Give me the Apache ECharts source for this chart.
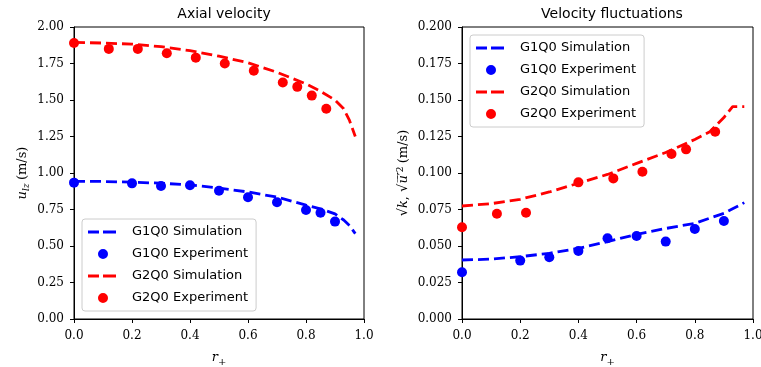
<!DOCTYPE html>
<html>
<head>
<meta charset="utf-8">
<script src="https://cdn.jsdelivr.net/npm/echarts@6/dist/echarts.min.js"></script>
<style>
  html, body { margin: 0; padding: 0; background: #fff; }
  #chart { width: 761px; height: 367px; }
</style>
</head>
<body>
<div id="chart"></div>
<script>
// Radial positions where the simulation profiles are sampled
const simR = [0, 0.1, 0.2, 0.3, 0.4, 0.5, 0.6, 0.7, 0.8, 0.85, 0.9, 0.93, 0.95, 0.97];

// Axial velocity (m/s)
const axialSimG1 = [0.943, 0.942, 0.937, 0.930, 0.918, 0.897, 0.870, 0.835, 0.780, 0.755, 0.720, 0.678, 0.640, 0.585];
const axialSimG2 = [1.895, 1.890, 1.883, 1.865, 1.838, 1.800, 1.755, 1.690, 1.610, 1.560, 1.500, 1.440, 1.360, 1.250];
const axialExpG1R = [0, 0.2, 0.3, 0.4, 0.5, 0.6, 0.7, 0.8, 0.85, 0.9];
const axialExpG1 = [0.934, 0.929, 0.911, 0.916, 0.879, 0.834, 0.800, 0.747, 0.728, 0.667];
const axialExpG2R = [0, 0.12, 0.22, 0.32, 0.42, 0.52, 0.62, 0.72, 0.77, 0.82, 0.87];
const axialExpG2 = [1.89, 1.85, 1.85, 1.82, 1.79, 1.75, 1.70, 1.62, 1.59, 1.53, 1.44];

// Velocity fluctuations (m/s)
const flucSimG1 = [0.0404, 0.0410, 0.0427, 0.0450, 0.0484, 0.0530, 0.0580, 0.0620, 0.0655, 0.0690, 0.0724, 0.0755, 0.0775, 0.0797];
const flucSimG2 = [0.0774, 0.0790, 0.0820, 0.0870, 0.0930, 0.0990, 0.1066, 0.1140, 0.1230, 0.1280, 0.1380, 0.1455, 0.1455, 0.1455];
const flucExpG1R = [0, 0.2, 0.3, 0.4, 0.5, 0.6, 0.7, 0.8, 0.9];
const flucExpG1 = [0.0320, 0.0400, 0.0423, 0.0466, 0.0553, 0.0568, 0.0530, 0.0616, 0.0671];
const flucExpG2R = [0, 0.12, 0.22, 0.40, 0.52, 0.62, 0.72, 0.77, 0.87];
const flucExpG2 = [0.0628, 0.0721, 0.0728, 0.0936, 0.0963, 0.1009, 0.1130, 0.1162, 0.1283];

const titles = ['Axial velocity', 'Velocity fluctuations'];
const seriesNames = ['G1Q0 Simulation', 'G1Q0 Experiment', 'G2Q0 Simulation', 'G2Q0 Experiment'];

const BLUE = '#0000ff';
const RED = '#ff0000';
const serif = 'DejaVu Serif';
const sans = 'DejaVu Sans';

const pairs = (xs, ys) => xs.map((x, i) => [x, ys[i]]);

function simSeries(name, idx, color, xs, ys) {
  return {
    name, type: 'line', xAxisIndex: idx, yAxisIndex: idx,
    data: pairs(xs, ys), symbol: 'none', smooth: false,
    lineStyle: { color, width: 2.8, type: [11, 5] },
    itemStyle: { color }, z: 3, animation: false
  };
}
function expSeries(name, idx, color, xs, ys, clip) {
  return {
    name, type: 'scatter', xAxisIndex: idx, yAxisIndex: idx,
    data: pairs(xs, ys), symbol: 'circle', symbolSize: 10,
    itemStyle: { color, opacity: 1 }, clip, z: 4, animation: false
  };
}

const tickLabel = { fontFamily: serif, fontSize: 12, color: '#000' };
const axisLine = { show: true, lineStyle: { color: '#000', width: 1 } };
const axisTick = { show: true, inside: false, length: 4, lineStyle: { color: '#000', width: 1 } };

function xAxis(idx) {
  return {
    type: 'value', gridIndex: idx, min: 0, max: 1, interval: 0.2,
    axisLine, axisTick, splitLine: { show: false },
    axisLabel: { ...tickLabel, margin: 11, formatter: v => v.toFixed(1) },
    name: '{r|r}{s|+}', nameLocation: 'middle', nameGap: 30, nameMoveOverlap: false,
    nameTextStyle: {
      rich: {
        r: { fontFamily: serif, fontStyle: 'italic', fontSize: 13, color: '#000' },
        s: { fontFamily: serif, fontSize: 10, color: '#000', padding: [8, 0, 0, 0] }
      }
    }
  };
}

// Legend glyphs: two dashes for the simulation lines, a dot for the measurements.
// Tiny corner marks pin the path's bounding box to the full 32x12 icon cell.
const corners = 'M0,0 L0.01,0 L0.01,0.01 Z M32,12 L31.99,12 L31.99,11.99 Z ';
const dashIcon = 'path://' + corners + 'M1,4.6 L12,4.6 L12,7.4 L1,7.4 Z M16,4.6 L29,4.6 L29,7.4 L16,7.4 Z';
const dotIcon = 'path://' + corners + 'M16,1 A5,5 0 1 1 16,11 A5,5 0 1 1 16,1 Z';

function legendData() {
  return [
    { name: seriesNames[0], icon: dashIcon, itemStyle: { color: BLUE } },
    { name: seriesNames[1], icon: dotIcon, itemStyle: { color: BLUE } },
    { name: seriesNames[2], icon: dashIcon, itemStyle: { color: RED } },
    { name: seriesNames[3], icon: dotIcon, itemStyle: { color: RED } }
  ];
}

const legendBase = {
  orient: 'vertical',
  itemWidth: 32, itemHeight: 12, itemGap: 8,
  padding: [6, 8, 6, 5],
  backgroundColor: 'rgba(255,255,255,0.8)',
  borderColor: '#cccccc', borderWidth: 1, borderRadius: 3,
  textStyle: { fontFamily: sans, fontSize: 13, color: '#000', lineHeight: 14, padding: [0, 0, 0, 8] },
  selectedMode: false
};

const gridBase = {
  top: 27, height: 292, show: true, borderColor: '#000', borderWidth: 1,
  backgroundColor: 'transparent', containLabel: false, outerBoundsMode: 'none'
};

const option = {
  backgroundColor: '#fff',
  animation: false,
  title: [
    { text: titles[0], left: 219, top: 2, textAlign: 'center',
      textStyle: { fontFamily: sans, fontSize: 14, fontWeight: 'normal', color: '#000' } },
    { text: titles[1], left: 607, top: 2, textAlign: 'center',
      textStyle: { fontFamily: sans, fontSize: 14, fontWeight: 'normal', color: '#000' } }
  ],
  legend: [
    { ...legendBase, data: legendData(), left: 82, top: 219 },
    { ...legendBase, data: legendData(), left: 470, top: 35 }
  ],
  grid: [
    { ...gridBase, left: 74, width: 290 },
    { ...gridBase, left: 462, width: 291 }
  ],
  xAxis: [xAxis(0), xAxis(1)],
  yAxis: [
    {
      type: 'value', gridIndex: 0, min: 0, max: 2, interval: 0.25,
      axisLine, axisTick, splitLine: { show: false },
      axisLabel: { ...tickLabel, margin: 10, formatter: v => v.toFixed(2) },
      name: '{u|u}{s|lz} {t|(m/s)}', nameLocation: 'middle', nameGap: 43, nameRotate: 90,
      nameMoveOverlap: false,
      nameTextStyle: {
        rich: {
          u: { fontFamily: serif, fontStyle: 'italic', fontSize: 13, color: '#000' },
          s: { fontFamily: serif, fontStyle: 'italic', fontSize: 9, color: '#000', padding: [7, 0, 0, 0] },
          t: { fontFamily: serif, fontSize: 13, color: '#000' }
        }
      }
    },
    {
      type: 'value', gridIndex: 1, min: 0, max: 0.2, interval: 0.025,
      axisLine, axisTick, splitLine: { show: false },
      axisLabel: { ...tickLabel, margin: 10, formatter: v => v.toFixed(3) },
      name: '{t|\u221A}{i|k}{t|, \u221A}{i|u\u0305\u2032\u0305}{p|2} {t|(m/s)}', nameLocation: 'middle', nameGap: 50, nameRotate: 90,
      nameMoveOverlap: false,
      nameTextStyle: {
        rich: {
          t: { fontFamily: serif, fontSize: 13, color: '#000' },
          i: { fontFamily: serif, fontStyle: 'italic', fontSize: 13, color: '#000' },
          p: { fontFamily: serif, fontSize: 9, color: '#000', padding: [0, 0, 7, 0] }
        }
      }
    }
  ],
  series: [
    simSeries(seriesNames[0], 0, BLUE, simR, axialSimG1),
    expSeries(seriesNames[1], 0, BLUE, axialExpG1R, axialExpG1, false),
    simSeries(seriesNames[2], 0, RED, simR, axialSimG2),
    expSeries(seriesNames[3], 0, RED, axialExpG2R, axialExpG2, false),
    simSeries(seriesNames[0], 1, BLUE, simR, flucSimG1),
    expSeries(seriesNames[1], 1, BLUE, flucExpG1R, flucExpG1, true),
    simSeries(seriesNames[2], 1, RED, simR, flucSimG2),
    expSeries(seriesNames[3], 1, RED, flucExpG2R, flucExpG2, true)
  ]
};

const chart = echarts.init(document.getElementById('chart'), null, { renderer: 'canvas' });
chart.setOption(option);
</script>
</body>
</html>
